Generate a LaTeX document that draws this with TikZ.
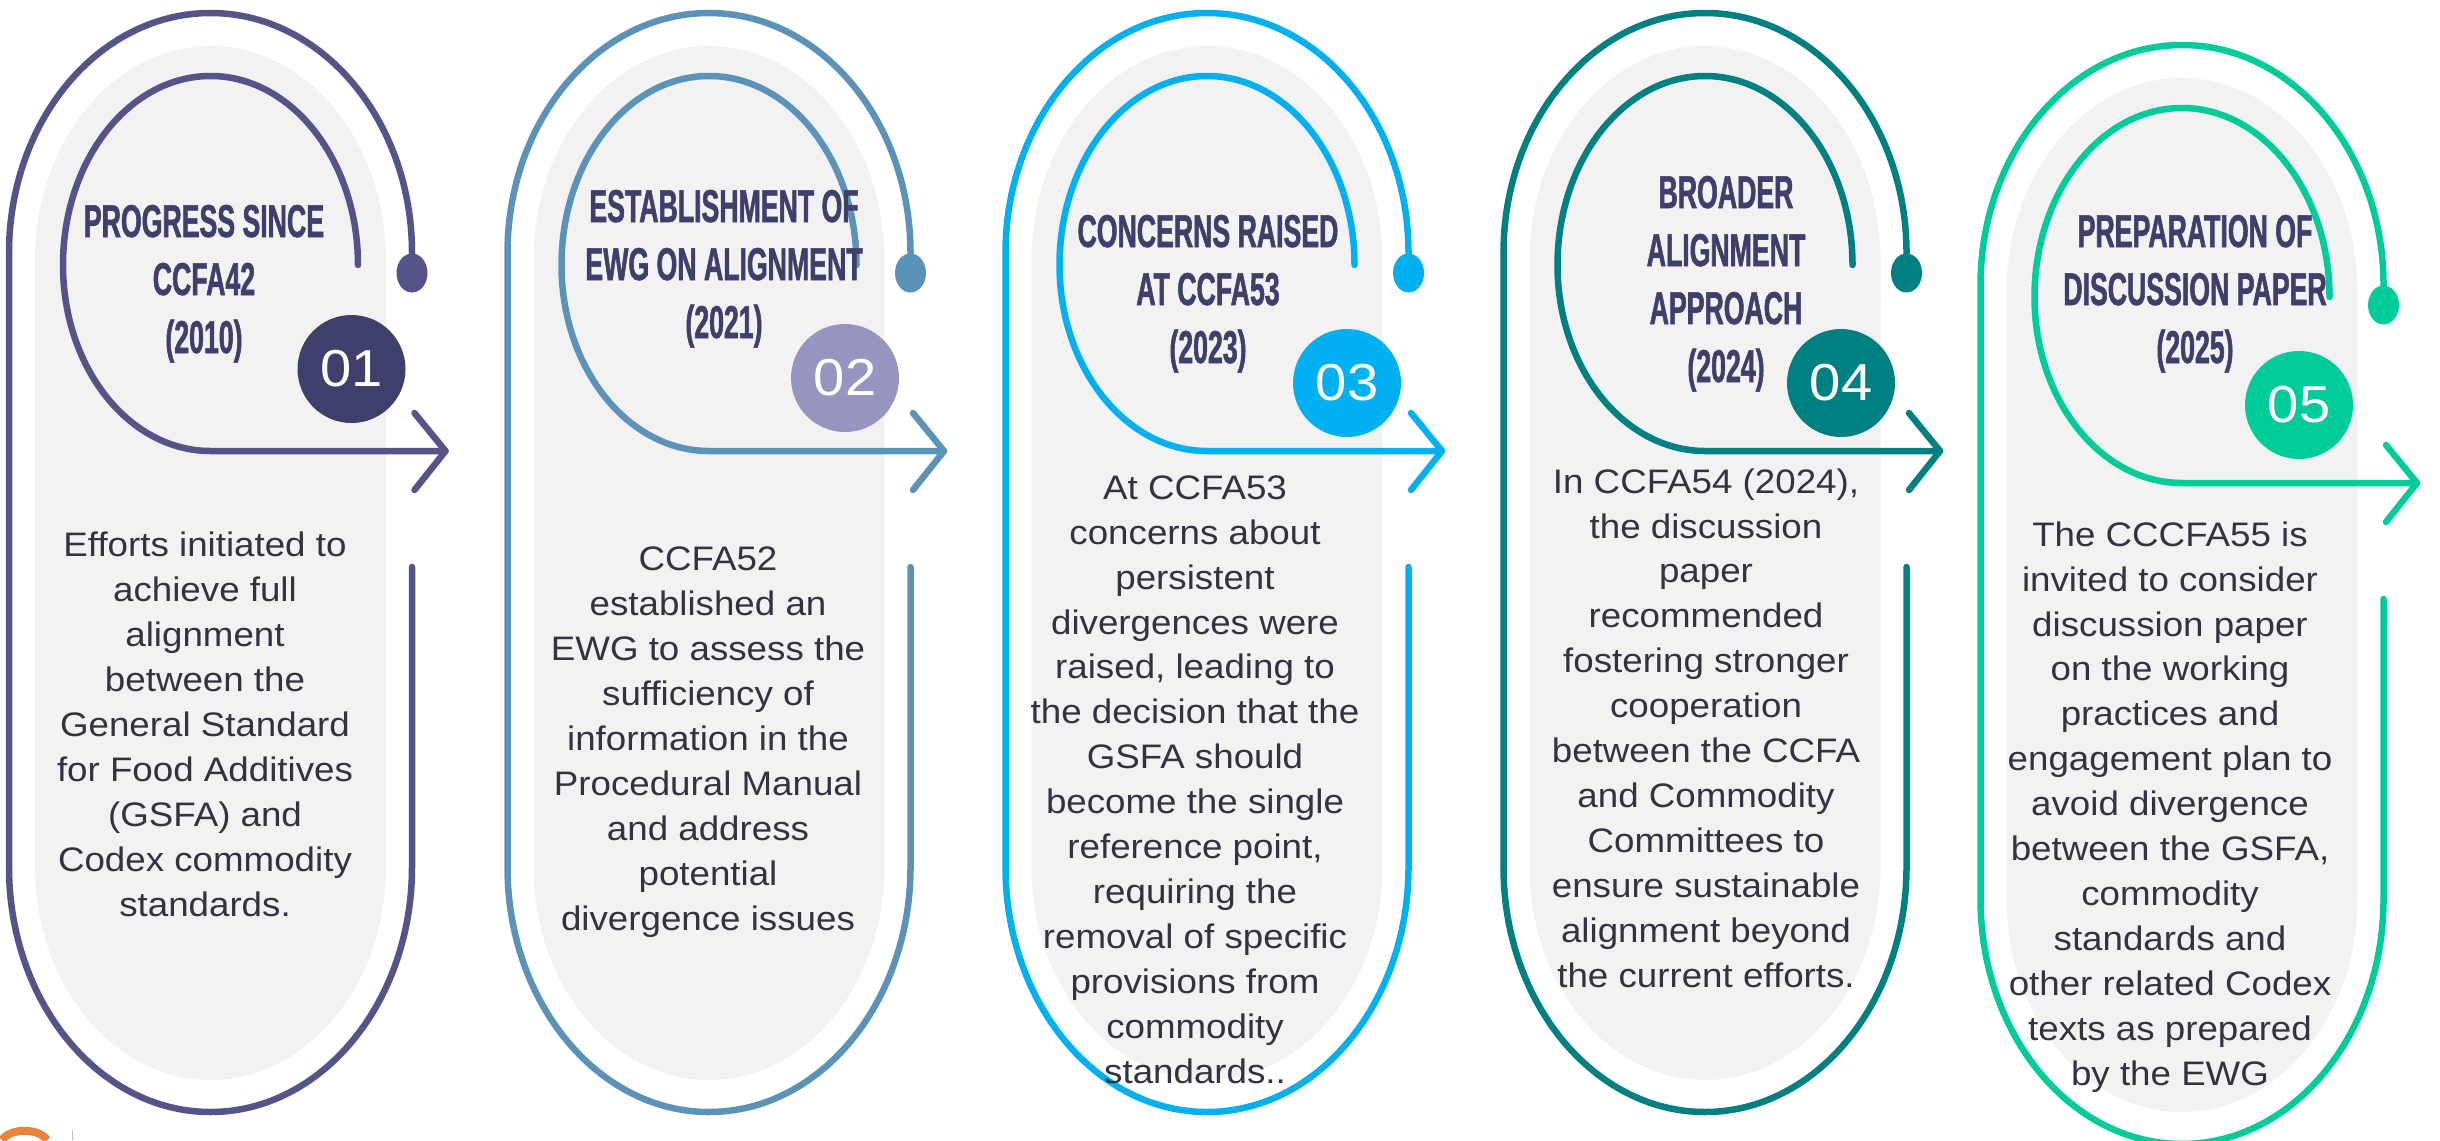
\documentclass[tikz,border=0pt]{standalone}
\usepackage{fontspec}
\setmainfont{Liberation Sans}
\newfontfamily\headfont[FakeStretch=0.58,FakeBold=1.2]{Liberation Sans}
\newfontfamily\bodyfont[FakeStretch=1.08]{Liberation Sans}
\usepackage{tikz}
\usetikzlibrary{positioning}
\usepackage{xcolor}
\definecolor{lineA}{HTML}{545489}
\definecolor{numA}{HTML}{3F3F6C}
\definecolor{lineB}{HTML}{5B93B8}
\definecolor{numB}{HTML}{9595BF}
\definecolor{lineC}{HTML}{00B0F0}
\definecolor{lineD}{HTML}{008080}
\definecolor{lineE}{HTML}{00CC99}
\definecolor{pillgray}{HTML}{F2F2F2}
\definecolor{headblue}{HTML}{3F3F6B}
\definecolor{bodygray}{HTML}{333340}
\definecolor{logoorange}{HTML}{E8843C}

\begin{document}
\begin{tikzpicture}[
  x=1pt,y=1pt,
  loopline/.style={line width=6.5pt,line cap=round,line join=round},
  numdot/.style={circle,minimum size=108pt,inner sep=0pt,text=white,font=\bodyfont\fontsize{52}{52}\selectfont},
  headtxt/.style={align=center,anchor=base,inner sep=0pt,text=headblue,font=\headfont\bfseries\fontsize{46}{58}\selectfont},
  bodytxt/.style={align=center,anchor=base,inner sep=0pt,text=bodygray,font=\bodyfont\fontsize{34}{44.9}\selectfont}
]
  \useasboundingbox (0,0) rectangle (2440,-1140);

  % Panels: grey pill, outer U loop with end dot, inner loop ending in arrow, number badge
  \foreach \cx/\dy/\col/\ncol/\num/\nx/\ny [count=\i] in {
      210.5/0/lineA/numA/01/141/-369,
      709/0/lineB/numB/02/136/-378,
      1207/0/lineC/lineC/03/140/-383,
      1705/0/lineD/lineD/04/136/-383,
      2182/-32/lineE/lineE/05/117/-373}{
    \begin{scope}[shift={(\cx,\dy)}]
      \fill[pillgray] (-175.5,-867) -- (-175.5,-260)
        arc[start angle=180,end angle=0,x radius=175.5,y radius=214]
        -- (175.5,-867)
        arc[start angle=0,end angle=-180,x radius=175.5,y radius=213] -- cycle;
      \draw[loopline,draw=\col] (201.5,-567) -- (201.5,-867)
        arc[start angle=0,end angle=-180,x radius=201.5,y radius=245]
        -- (-201.5,-253)
        arc[start angle=180,end angle=0,x radius=201.5,y radius=240];
      \fill[\col] (201.5,-273) ellipse[x radius=15.5,y radius=19.5];
      \draw[loopline,draw=\col] (147.5,-265)
        arc[start angle=0,end angle=180,x radius=147.5,y radius=189]
        arc[start angle=180,end angle=270,x radius=147.5,y radius=186]
        -- (235,-451);
      \draw[loopline,draw=\col] (204,-413) -- (235,-451) -- (204,-490);
      \node[numdot,fill=\ncol] (num\i) at (\nx,\ny) {\num};
    \end{scope}
  }

  % Headings (placed by the baseline of their last line)
  \node[headtxt] (head1) at (204,-353)  {PROGRESS SINCE\\CCFA42\\(2010)};
  \node[headtxt] (head2) at (724,-338)  {ESTABLISHMENT OF\\EWG ON ALIGNMENT\\(2021)};
  \node[headtxt] (head3) at (1208,-363) {CONCERNS RAISED\\AT CCFA53\\(2023)};
  \node[headtxt] (head4) at (1726,-382) {BROADER\\ALIGNMENT\\APPROACH\\(2024)};
  \node[headtxt] (head5) at (2195,-363) {PREPARATION OF\\DISCUSSION PAPER\\(2025)};

  % Descriptions (placed by the baseline of their last line)
  \node[bodytxt] (body1) at (205,-916) {Efforts initiated to\\achieve full\\alignment\\between the\\General Standard\\for Food Additives\\(GSFA) and\\Codex commodity\\standards.};
  \node[bodytxt] (body2) at (708,-930) {CCFA52\\established an\\EWG to assess the\\sufficiency of\\information in the\\Procedural Manual\\and address\\potential\\divergence issues};
  \node[bodytxt] (body3) at (1195,-1083) {At CCFA53\\concerns about\\persistent\\divergences were\\raised, leading to\\the decision that the\\GSFA should\\become the single\\reference point,\\requiring the\\removal of specific\\provisions from\\commodity\\standards..};
  \node[bodytxt] (body4) at (1706,-987) {In CCFA54 (2024),\\the discussion\\paper\\recommended\\fostering stronger\\cooperation\\between the CCFA\\and Commodity\\Committees to\\ensure sustainable\\alignment beyond\\the current efforts.};
  \node[bodytxt] (body5) at (2170,-1085) {The CCCFA55 is\\invited to consider\\discussion paper\\on the working\\practices and\\engagement plan to\\avoid divergence\\between the GSFA,\\commodity\\standards and\\other related Codex\\texts as prepared\\by the EWG};

  % Logo remnant, bottom left
  \draw[logoorange,line width=8pt] (2,-1140) arc[start angle=160,end angle=20,x radius=24,y radius=14];
  \draw[black!25,line width=1pt] (72,-1130) -- (72,-1140);
\end{tikzpicture}
\end{document}
